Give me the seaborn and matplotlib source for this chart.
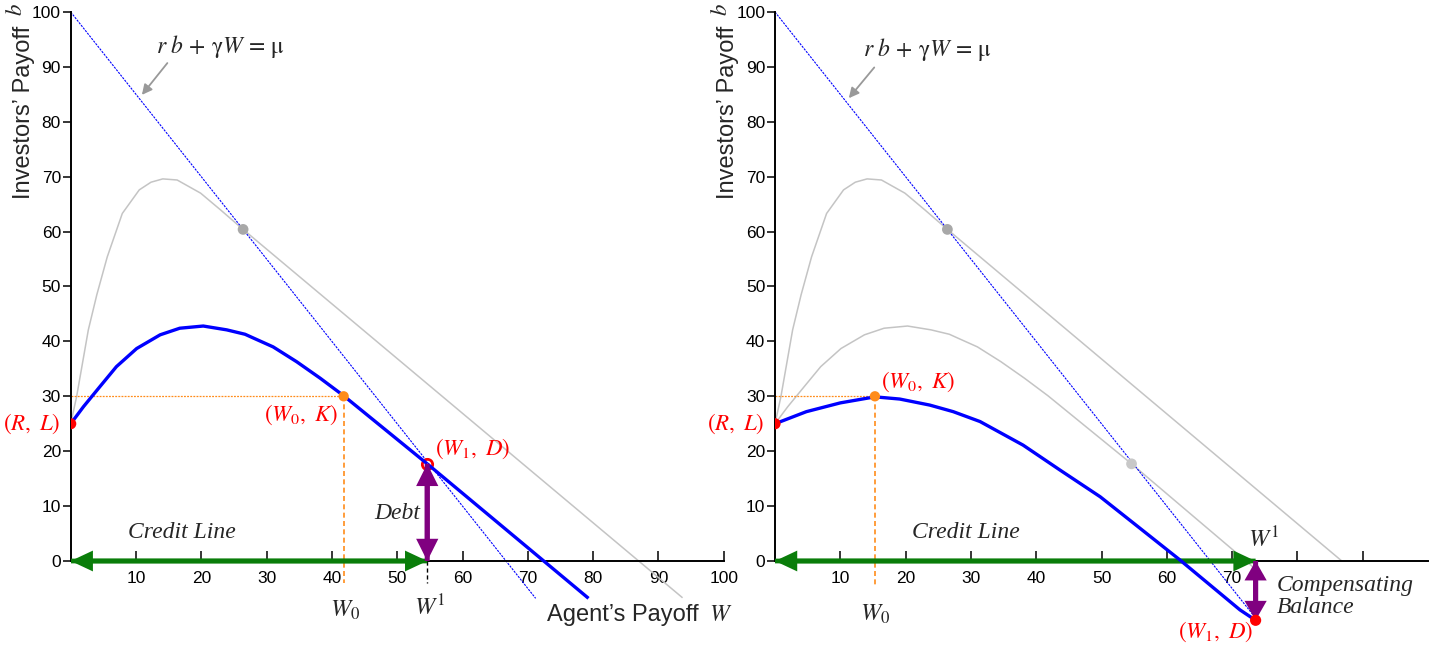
import matplotlib
matplotlib.use("Agg")
import matplotlib.pyplot as plt
from matplotlib.patches import FancyArrowPatch, ArrowStyle
import seaborn as sns

# ---------------- data ----------------
upper_hump_W = [0, 0.9, 2.7, 4.0, 5.6, 7.9, 10.5, 12.3, 14.1, 16.3, 19.9, 23.0, 26.4]
upper_hump_b = [25, 29.9, 42.1, 48.5, 55.4, 63.3, 67.6, 69.0, 69.6, 69.4, 67.0, 63.9, 60.4]
tangent_left_W = [26.4, 93.7]
tangent_left_b = [60.4, -6.7]
tangent_right_W = [26.4, 86.8]
tangent_right_b = [60.4, 0.0]

lower_hump_W = [0, 1.95, 4.5, 7.0, 10.1, 13.7, 16.7, 20.3, 23.9, 26.7, 28.0, 31.0,
                34.6, 38.2, 41.8, 54.6]
lower_hump_b = [25, 28.1, 31.8, 35.4, 38.7, 41.2, 42.4, 42.8, 42.1, 41.3, 40.6, 39.0,
                36.3, 33.3, 30.1, 17.7]
lower_tail_left_W = [54.6, 79.3]
lower_tail_left_b = [17.7, -6.8]
lower_tail_right_W = [54.6, 74.8]
lower_tail_right_b = [17.7, -2.7]

right_blue_W = [0, 4.8, 10.0, 15.3, 19.1, 23.7, 27.3, 31.4, 38.0, 43.6, 49.8, 54.9,
                62.0, 71.2, 73.6]
right_blue_b = [25, 27.2, 28.8, 29.9, 29.5, 28.4, 27.2, 25.4, 21.1, 16.6, 11.7, 6.9,
                0.2, -8.9, -10.8]

budget_left_W = [0, 71.2]
budget_left_b = [100, -6.8]
budget_right_W = [0, 73.6]
budget_right_b = [100, -10.4]

R_L = (0, 25)
left_W0_K = (41.8, 30)
left_W1_D = (54.6, 17.7)
right_W0_K = (15.3, 30)
right_W1_D = (73.6, -10.8)
tangent_point_hi = (26.4, 60.4)
tangent_point_lo = (54.6, 17.7)

yticks = [0, 10, 20, 30, 40, 50, 60, 70, 80, 90, 100]
ytick_labels = [str(v) for v in yticks]
xticks_left = [10, 20, 30, 40, 50, 60, 70, 80, 90, 100]
xtick_labels_left = [str(v) for v in xticks_left]
xticks_right = [10, 20, 30, 40, 50, 60, 70, 80, 90]
xtick_labels_right = ["10", "20", "30", "40", "50", "60", "70", "", ""]

# ---------------- style ----------------
sns.set_theme(style="white")
plt.rcParams["font.family"] = ["Liberation Sans", "DejaVu Sans"]
plt.rcParams["mathtext.fontset"] = "stix"
plt.rcParams["xtick.color"] = "black"
plt.rcParams["ytick.color"] = "black"

BLUE = "#0000ff"
GRAY = "#c4c4c4"
GRAYDOT = "#a8a8a8"
GREEN = "#0a7d0a"
PURPLE = "#800080"
ORANGE = "#ff8c1a"
RED = "#ff0000"

fig = plt.figure(figsize=(14.42, 6.48), dpi=100)
W_PX, H_PX = 1442, 648
YMIN, YMAX = -15, 102
PX_PER_Y = 5.49
y0_px = 561
bottom_px = y0_px - YMIN * PX_PER_Y
top_px = y0_px - YMAX * PX_PER_Y
ax_h = (bottom_px - top_px) / H_PX
ax_b = (H_PX - bottom_px) / H_PX
axL = fig.add_axes([70.7 / W_PX, ax_b, 653 / W_PX, ax_h])
axR = fig.add_axes([775 / W_PX, ax_b, 653 / W_PX, ax_h])


def line(ax, xs, ys, color, lw, z, dashes=None):
    sns.lineplot(x=xs, y=ys, ax=ax, color=color, linewidth=lw, sort=False,
                 estimator=None, legend=False, zorder=z)
    ln = ax.lines[-1]
    if dashes is not None:
        ln.set_dashes(dashes)
    ln.set_solid_capstyle("butt")


def dot(ax, p, color, size, z, face=None, ew=0):
    sns.scatterplot(x=[p[0]], y=[p[1]], ax=ax, color=color, s=size, zorder=z,
                    edgecolor=color if ew else "none", linewidth=ew,
                    facecolor=face if face else color, legend=False)


def double_arrow(ax, p0, p1, color, tail, head_w, head_l, z):
    style = ArrowStyle.Simple(head_length=head_l, head_width=head_w, tail_width=tail)
    for a, b in [(p0, p1), (p1, p0)]:
        ax.add_patch(FancyArrowPatch(b, a, arrowstyle=style, mutation_scale=1,
                                     color=color, lw=0, shrinkA=0, shrinkB=0, zorder=z))


def setup(ax, xticks, xlabels):
    ax.set_xlim(0, 100)
    ax.set_ylim(YMIN, YMAX)
    ax.set_facecolor("none")
    for s in ["top", "right"]:
        ax.spines[s].set_visible(False)
    ax.spines["left"].set_bounds(0, 100)
    ax.spines["bottom"].set_position(("data", 0))
    ax.spines["bottom"].set_bounds(0, 100)
    for s in ["left", "bottom"]:
        ax.spines[s].set_color("black")
        ax.spines[s].set_linewidth(1.4)
        ax.spines[s].set_zorder(2.5)
    ax.set_yticks(yticks)
    ax.set_yticklabels(ytick_labels)
    ax.set_xticks(xticks)
    ax.set_xticklabels(xlabels)
    ax.tick_params(axis="y", direction="out", length=6, width=1.1, pad=1, labelsize=12.5,
                   left=True)
    ax.tick_params(axis="x", direction="in", length=7, width=1.1, pad=7, labelsize=12.5,
                   bottom=True)
    ax.set_xlabel("")
    ax.set_ylabel("")
    ax.grid(False)


def common(ax, fx, fy, ax0, ay0, ax1, ay1):
    ax.text(-7.2, 81.8, "Investors’ Payoff", rotation=90, ha="center", va="center",
            fontsize=17, clip_on=False)
    ax.text(-8.4, 100.4, r"$b$", rotation=90, ha="center", va="center",
            fontsize=16.5, clip_on=False)
    ax.text(fx, fy, r"$r\ b\,+\,\mathrm{\gamma} W\,=\,\mathrm{\mu}$", ha="center",
            va="center", fontsize=17)
    ax.annotate("", xy=(ax1, ay1), xytext=(ax0, ay0),
                arrowprops=dict(arrowstyle="-|>,head_length=0.5,head_width=0.25",
                                color="#999999", lw=1.3, shrinkA=0, shrinkB=0))
    ax.text(-1.6, R_L[1], r"$(R,\ L)$", color=RED, ha="right", va="center", fontsize=16.5,
            clip_on=False)


# ================= LEFT PANEL =================
setup(axL, xticks_left, xtick_labels_left)
line(axL, upper_hump_W, upper_hump_b, GRAY, 1.1, 1)
line(axL, tangent_left_W, tangent_left_b, GRAY, 1.1, 1)
line(axL, budget_left_W, budget_left_b, BLUE, 0.8, 2, dashes=(2, 1))
line(axL, [0, left_W0_K[0]], [left_W0_K[1], left_W0_K[1]], ORANGE, 0.9, 2, dashes=(1.5, 1))
line(axL, [left_W0_K[0], left_W0_K[0]], [left_W0_K[1], -4.0], ORANGE, 1.2, 2, dashes=(3, 2))
line(axL, [left_W1_D[0], left_W1_D[0]], [0, -4.0], "black", 1.0, 2, dashes=(3, 2))
double_arrow(axL, (0, 0), (left_W1_D[0], 0), GREEN, 3.4, 15, 16, 3)
line(axL, lower_hump_W, lower_hump_b, BLUE, 2.4, 4)
line(axL, lower_tail_left_W, lower_tail_left_b, BLUE, 2.4, 4)
double_arrow(axL, (left_W1_D[0], 0), left_W1_D, PURPLE, 3.6, 16, 16, 5)
dot(axL, tangent_point_hi, GRAYDOT, 60, 6)
dot(axL, R_L, RED, 65, 6)
dot(axL, left_W0_K, ORANGE, 55, 6)
dot(axL, left_W1_D, RED, 55, 3.5, face="white", ew=2)

common(axL, 23.0, 93.8, 14.8, 90.7, 10.9, 84.9)
axL.text(40.9, 26.6, r"$(W_0,\ K)$", color=RED, ha="right", va="center", fontsize=16.5)
axL.text(55.8, 20.4, r"$(W_1,\ D)$", color=RED, ha="left", va="center", fontsize=16.5)
axL.text(50.0, 8.7, "Debt", family="Liberation Serif", style="italic", ha="center",
         va="center", fontsize=17)
axL.text(17.1, 5.2, "Credit Line", family="Liberation Serif", style="italic",
         ha="center", va="center", fontsize=17)
axL.text(42.0, -8.9, r"$W_0$", ha="center", va="center", fontsize=17.5, clip_on=False)
axL.text(55.0, -8.4, r"$W^1$", ha="center", va="center", fontsize=17.5, clip_on=False)
axL.text(84.5, -9.8, "Agent’s Payoff", ha="center", va="center", fontsize=17,
         clip_on=False)
axL.text(99.6, -9.8, r"$W$", ha="center", va="center", fontsize=17, clip_on=False)

# ================= RIGHT PANEL =================
setup(axR, xticks_right, xtick_labels_right)
line(axR, upper_hump_W, upper_hump_b, GRAY, 1.1, 1)
line(axR, tangent_right_W, tangent_right_b, GRAY, 1.1, 1)
line(axR, lower_hump_W, lower_hump_b, GRAY, 1.1, 1)
line(axR, lower_tail_right_W, lower_tail_right_b, GRAY, 1.1, 1)
line(axR, budget_right_W, budget_right_b, BLUE, 0.8, 2, dashes=(2, 1))
line(axR, [0, right_W0_K[0]], [right_W0_K[1], right_W0_K[1]], ORANGE, 0.9, 2,
     dashes=(1.5, 1))
line(axR, [right_W0_K[0], right_W0_K[0]], [right_W0_K[1], -4.4], ORANGE, 1.2, 2,
     dashes=(3, 2))
double_arrow(axR, (0, 0), (right_W1_D[0], 0), GREEN, 3.4, 15, 16, 3)
line(axR, right_blue_W, right_blue_b, BLUE, 2.4, 4)
double_arrow(axR, (right_W1_D[0], 0), right_W1_D, PURPLE, 3.6, 16, 14, 5)
dot(axR, tangent_point_hi, GRAYDOT, 60, 6)
dot(axR, tangent_point_lo, "#c8c8c8", 60, 6)
dot(axR, R_L, RED, 65, 6)
dot(axR, right_W0_K, ORANGE, 55, 6)
dot(axR, right_W1_D, RED, 65, 6)

common(axR, 23.3, 93.1, 15.2, 89.9, 11.3, 84.3)
axR.text(16.3, 32.6, r"$(W_0,\ K)$", color=RED, ha="left", va="center", fontsize=16.5)
axR.text(67.5, -12.9, r"$(W_1,\ D)$", color=RED, ha="center", va="center", fontsize=16.5,
         clip_on=False)
axR.text(29.3, 5.2, "Credit Line", family="Liberation Serif", style="italic",
         ha="center", va="center", fontsize=17)
axR.text(76.9, -6.5, "Compensating\nBalance", family="Liberation Serif", style="italic",
         ha="left", va="center", fontsize=17, linespacing=1.1, clip_on=False)
axR.text(74.9, 3.9, r"$W^1$", ha="center", va="center", fontsize=17.5)
axR.text(15.4, -9.8, r"$W_0$", ha="center", va="center", fontsize=17.5, clip_on=False)

fig.savefig("out.png", dpi=100)
